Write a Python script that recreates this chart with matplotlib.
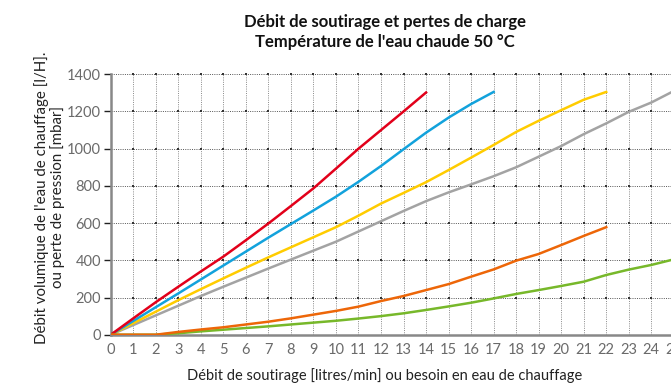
import numpy as np
import matplotlib.pyplot as plt

plt.rcParams['font.family'] = ['Lato', 'DejaVu Sans']

# --- Data: flow rate [l/min] vs. flow [l/H] or pressure loss [mbar] ---
x_red = list(range(0, 15))
red = [0, 88, 175, 258, 340, 420, 508, 598, 692, 787, 893, 1000, 1100, 1200, 1302]

x_blue = list(range(0, 18))
blue = [0, 74, 148, 222, 297, 372, 447, 522, 595, 668, 742, 822, 907, 997,
        1086, 1167, 1240, 1305]

x_yellow = list(range(0, 23))
yellow = [0, 62, 124, 186, 245, 303, 360, 416, 470, 524, 578, 640, 705, 762,
          820, 885, 952, 1020, 1090, 1150, 1207, 1263, 1305]

x_gray = list(range(0, 26))
gray = [0, 52, 104, 156, 208, 258, 307, 356, 404, 452, 500, 555, 610, 665,
        718, 765, 808, 852, 900, 957, 1014, 1078, 1136, 1198, 1248, 1310]

x_orange = list(range(0, 23))
orange = [0, 0, 0, 15, 28, 40, 55, 70, 88, 108, 128, 151, 181, 208, 240, 272,
          312, 351, 398, 434, 482, 531, 578]

x_green = list(range(0, 26))
green = [0, 0, 0, 8, 18, 27, 36, 45, 55, 65, 75, 87, 100, 115, 133, 152, 172,
         195, 219, 240, 262, 285, 321, 350, 375, 405]

x_ticks = list(range(0, 26))
y_ticks = [0, 200, 400, 600, 800, 1000, 1200, 1400]

# --- Figure ---
fig = plt.figure(figsize=(6.71, 3.87), dpi=100)
ax = fig.add_axes([0.1651, 0.1351, 0.8726, 0.673])
ax.set_xlim(0, 26)
ax.set_ylim(0, 1400)

# dotted grid with darker dots on the crossings
for xv in x_ticks[1:]:
    ax.axvline(xv, color='#8a8a8a', lw=0.7, ls=(0, (1, 1.3)), zorder=1)
for yv in y_ticks[1:]:
    ax.axhline(yv, color='#555555', lw=0.7, ls=(0, (1, 1.3)), zorder=1)
gx, gy = np.meshgrid(x_ticks[1:], y_ticks[1:])
ax.plot(gx.ravel(), gy.ravel(), 's', color='#333333', ms=1.6, mew=0, zorder=1,
        clip_on=False)

lw = 1.8
ax.plot(x_gray, gray, color='#a3a3a3', lw=lw, zorder=3)
ax.plot(x_yellow, yellow, color='#ffcc00', lw=lw, zorder=3)
ax.plot(x_blue, blue, color='#12a2dc', lw=lw, zorder=3)
ax.plot(x_red, red, color='#e2001a', lw=lw, zorder=3)
ax.plot(x_green, green, color='#77b82a', lw=lw, zorder=3)
ax.plot(x_orange, orange, color='#ed6608', lw=lw, zorder=4)

for side in ['top', 'right']:
    ax.spines[side].set_visible(False)
for side in ['left', 'bottom']:
    ax.spines[side].set_color('#888888')
    ax.spines[side].set_linewidth(1.8)

ax.set_xticks(x_ticks)
ax.set_yticks(y_ticks)
ax.tick_params(axis='x', length=0, pad=6, labelsize=10.5, labelcolor='#6a6a6a')
ax.tick_params(axis='y', length=5, width=1, color='#222222', pad=2,
               labelsize=10.5, labelcolor='#6a6a6a')

ax.set_xlabel('Débit de soutirage [litres/min] ou besoin en eau de chauffage',
              fontsize=10.5, color='#222222')
ax.xaxis.set_label_coords((385 - 110.8) / (0.8726 * 671), -0.128)

fig.text(0.074, 0.49,
         "Débit volumique de l'eau de chauffage [l/H].\nou perte de pression [mbar]",
         rotation=90, ha='center', va='center', fontsize=10.8, color='#222222',
         linespacing=1.05)

fig.text(0.574, 0.917,
         "Débit de soutirage et pertes de charge\nTempérature de l'eau chaude 50 °C",
         ha='center', va='center', fontsize=12, fontweight='bold',
         color='#111111', linespacing=1.35)

fig.savefig('out.png', dpi=100)
